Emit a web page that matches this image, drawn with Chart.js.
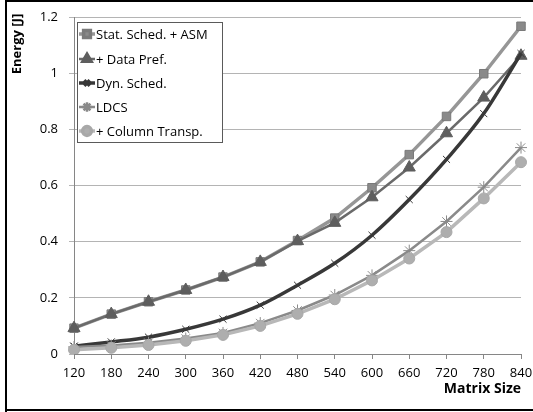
<!DOCTYPE html>
<html>
<head>
<meta charset="utf-8">
<script src="https://cdn.jsdelivr.net/npm/chart.js@4.4.1/dist/chart.umd.min.js"></script>
<style>
  html, body { margin: 0; padding: 0; background: #fff; }
  #wrap { position: relative; width: 533px; height: 412px; }
</style>
</head>
<body>
<div id="wrap"><canvas id="energyChart" width="533" height="412"></canvas></div>
<script>
// matrix sizes on the x axis
const matrixSizes = ['120', '180', '240', '300', '360', '420', '480', '540', '600', '660', '720', '780', '840'];

// energy per configuration [J]
const statSchedAsm = [0.092, 0.142, 0.186, 0.228, 0.274, 0.328, 0.404, 0.484, 0.592, 0.71, 0.846, 0.998, 1.167];
const dataPref     = [0.092, 0.142, 0.186, 0.228, 0.274, 0.328, 0.402, 0.467, 0.558, 0.664, 0.786, 0.913, 1.062];
const dynSched     = [0.028, 0.043, 0.06, 0.088, 0.124, 0.174, 0.245, 0.323, 0.423, 0.55, 0.693, 0.856, 1.07];
const ldcs         = [0.025, 0.03, 0.04, 0.055, 0.075, 0.11, 0.155, 0.21, 0.28, 0.368, 0.472, 0.594, 0.735];
const columnTransp = [0.015, 0.022, 0.032, 0.047, 0.068, 0.1, 0.143, 0.195, 0.262, 0.34, 0.434, 0.554, 0.683];

const yTicks = [0, 0.2, 0.4, 0.6, 0.8, 1, 1.2];

const FONT = "'Open Sans', 'Liberation Sans', sans-serif";

// frame, axis titles and the boxed legend inside the plot
const excelLegend = {
    id: 'excelLegend',
    afterDraw(chart) {
        const ctx = chart.ctx;
        ctx.save();

        // outer frame
        ctx.strokeStyle = '#000';
        ctx.lineWidth = 2;
        ctx.beginPath();
        ctx.moveTo(6, 412);
        ctx.lineTo(6, 1);
        ctx.lineTo(540, 1);
        ctx.moveTo(6, 410);
        ctx.lineTo(540, 410);
        ctx.stroke();

        // axis titles
        ctx.fillStyle = '#000';
        ctx.font = 'bold 14px ' + FONT;
        ctx.textAlign = 'right';
        ctx.textBaseline = 'middle';
        ctx.fillText('Matrix Size', 521, 389);

        ctx.save();
        ctx.translate(17, 44);
        ctx.rotate(-Math.PI / 2);
        ctx.textAlign = 'center';
        ctx.font = 'bold 13px ' + FONT;
        ctx.fillText('Energy [J]', 0, 0);
        ctx.restore();

        // legend box
        ctx.fillStyle = '#fff';
        ctx.fillRect(77, 22, 146, 121);
        ctx.strokeStyle = '#5a5a5a';
        ctx.lineWidth = 1;
        ctx.strokeRect(77.5, 22.5, 145, 120);

        const rows = [34, 59, 83, 107, 131];
        chart.data.datasets.forEach((ds, i) => {
            const y = rows[i];
            ctx.strokeStyle = ds.borderColor;
            ctx.lineWidth = ds.borderWidth;
            ctx.beginPath();
            ctx.moveTo(79, y);
            ctx.lineTo(95, y);
            ctx.stroke();

            ctx.fillStyle = ds.pointBackgroundColor;
            ctx.strokeStyle = ds.pointBorderColor;
            Chart.helpers.drawPoint(ctx, {
                pointStyle: ds.pointStyle,
                radius: ds.pointRadius * 0.8,
                rotation: 0,
                borderWidth: ds.pointBorderWidth
            }, 87, y);

            ctx.fillStyle = '#000';
            ctx.font = '13px ' + FONT;
            ctx.textBaseline = 'middle';
            ctx.textAlign = 'left';
            ctx.fillText(ds.label, 96, y + 1);
        });
        ctx.restore();
    }
};

const ctx = document.getElementById('energyChart').getContext('2d');

new Chart(ctx, {
    type: 'line',
    data: {
        labels: matrixSizes,
        datasets: [
            {
                label: 'Stat. Sched. + ASM',
                data: statSchedAsm,
                borderColor: '#969696',
                borderWidth: 3.5,
                pointStyle: 'rect',
                pointRadius: 6,
                pointBackgroundColor: '#8a8a8a',
                pointBorderColor: '#7a7a7a',
                pointBorderWidth: 1,
                order: 5
            },
            {
                label: '+ Data Pref.',
                data: dataPref,
                borderColor: '#6a6a6a',
                borderWidth: 2.5,
                pointStyle: 'triangle',
                pointRadius: 7,
                pointBackgroundColor: '#5e5e5e',
                pointBorderColor: '#5e5e5e',
                pointBorderWidth: 1,
                order: 4
            },
            {
                label: 'Dyn. Sched.',
                data: dynSched,
                borderColor: '#383838',
                borderWidth: 3.5,
                cubicInterpolationMode: 'monotone',
                pointStyle: 'crossRot',
                pointRadius: 5,
                pointBackgroundColor: '#383838',
                pointBorderColor: '#383838',
                pointBorderWidth: 1,
                order: 3
            },
            {
                label: 'LDCS',
                data: ldcs,
                borderColor: '#8a8a8a',
                borderWidth: 2.5,
                pointStyle: 'star',
                pointRadius: 6,
                pointBackgroundColor: '#8a8a8a',
                pointBorderColor: '#8a8a8a',
                pointBorderWidth: 1,
                order: 2
            },
            {
                label: '+ Column Transp.',
                data: columnTransp,
                borderColor: '#b8b8b8',
                borderWidth: 3.5,
                pointStyle: 'circle',
                pointRadius: 5.5,
                pointBackgroundColor: '#aeaeae',
                pointBorderColor: '#a8a8a8',
                pointBorderWidth: 1,
                order: 1
            }
        ]
    },
    options: {
        responsive: false,
        animation: false,
        layout: { padding: { top: 17, right: 12, left: 0, bottom: 0 } },
        plugins: {
            legend: { display: false },
            tooltip: { enabled: false }
        },
        scales: {
            x: {
                offset: false,
                grid: {
                    display: true,
                    drawOnChartArea: false,
                    drawTicks: true,
                    tickLength: 5,
                    color: '#868686'
                },
                border: { color: '#868686', width: 1 },
                ticks: {
                    color: '#000',
                    padding: 6,
                    maxRotation: 0,
                    autoSkip: false,
                    font: { family: FONT, size: 13 }
                },
                afterFit(scale) {
                    scale.height = 58;
                    scale.paddingLeft = 0;
                    scale.paddingRight = 0;
                }
            },
            y: {
                min: 0,
                max: 1.2,
                afterBuildTicks(scale) {
                    scale.ticks = yTicks.map(v => ({ value: v }));
                },
                grid: {
                    color: '#b4b4b4',
                    tickLength: 5,
                    drawTicks: true
                },
                border: { color: '#868686', width: 1 },
                ticks: {
                    color: '#000',
                    padding: 11,
                    font: { family: FONT, size: 13 },
                    callback: v => String(Math.round(v * 10) / 10)
                },
                afterFit(scale) {
                    scale.width = 74;
                    scale.paddingTop = 0;
                    scale.paddingBottom = 0;
                }
            }
        }
    },
    plugins: [excelLegend]
});
</script>
</body>
</html>
